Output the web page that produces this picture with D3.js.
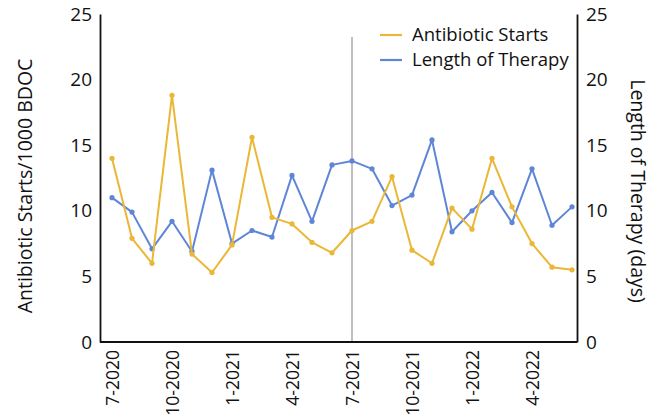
<!DOCTYPE html>
<meta charset="utf-8">
<title>Antibiotic starts and length of therapy</title>
<script src="https://d3js.org/d3.v7.min.js"></script>
<style>
body { margin: 0; background: #fff; }
text { font-family: "Open Sans", "Noto Sans", sans-serif; fill: #111; }
</style>
<div id="chart"></div>
<script>
// monthly data, 7-2020 .. 6-2022
const months = ["7-2020","8-2020","9-2020","10-2020","11-2020","12-2020",
  "1-2021","2-2021","3-2021","4-2021","5-2021","6-2021",
  "7-2021","8-2021","9-2021","10-2021","11-2021","12-2021",
  "1-2022","2-2022","3-2022","4-2022","5-2022","6-2022"];
const starts = [14.0, 7.9, 6.0, 18.8, 6.7, 5.3, 7.4, 15.6, 9.5, 9.0, 7.6, 6.8,
  8.5, 9.2, 12.6, 7.0, 6.0, 10.2, 8.6, 14.0, 10.3, 7.5, 5.7, 5.5];
const therapy = [11.0, 9.9, 7.1, 9.2, 6.9, 13.1, 7.5, 8.5, 8.0, 12.7, 9.2, 13.5,
  13.8, 13.2, 10.4, 11.2, 15.4, 8.4, 10.0, 11.4, 9.1, 13.2, 8.9, 10.3];
const tickMonths = ["7-2020","10-2020","1-2021","4-2021","7-2021","10-2021","1-2022","4-2022"];
const yTicks = [0, 5, 10, 15, 20, 25];
const legendNames = ["Antibiotic Starts", "Length of Therapy"];
const markerMonth = "7-2021";

const W = 660, H = 416;
const m = {left: 100, right: 577, top: 14, bottom: 342};
const gold = "#eab736", blue = "#5f86d6";

const svg = d3.select("#chart").append("svg")
  .attr("width", W).attr("height", H);

const x = d3.scalePoint().domain(months).range([112, 572]);
const yL = d3.scaleLinear().domain([0, 25]).range([m.bottom, m.top]);
const yR = d3.scaleLinear().domain([0, 25]).range([m.bottom, m.top]);

// vertical reference line
svg.append("line")
  .attr("x1", x(markerMonth)).attr("x2", x(markerMonth))
  .attr("y1", 37).attr("y2", m.bottom)
  .attr("stroke", "#b0b0b0").attr("stroke-width", 1.6);

// axes
const axL = svg.append("g").attr("transform", `translate(${m.left},0)`)
  .call(d3.axisLeft(yL).tickValues(yTicks).tickSize(0).tickPadding(8));
const axR = svg.append("g").attr("transform", `translate(${m.right},0)`)
  .call(d3.axisRight(yR).tickValues(yTicks).tickSize(0).tickPadding(9));
const axB = svg.append("g").attr("transform", `translate(0,${m.bottom})`)
  .call(d3.axisBottom(x).tickValues(tickMonths).tickSize(0).tickPadding(0));
axB.select(".domain").remove();
svg.append("line").attr("x1", m.left).attr("x2", m.right)
  .attr("y1", m.bottom).attr("y2", m.bottom)
  .attr("stroke", "#111").attr("stroke-width", 1.8);

[axL, axR].forEach(a => {
  a.select(".domain").attr("stroke", "#111").attr("stroke-width", 1.8);
  a.selectAll("text").style("font-size", "19px");
});
axB.selectAll("text")
  .style("font-size", "17.5px")
  .attr("text-anchor", "end")
  .attr("transform", "rotate(-90)")
  .attr("x", -8).attr("y", 0).attr("dy", "0.35em");

// axis titles
svg.append("text")
  .attr("transform", `translate(25,186) rotate(-90)`)
  .attr("text-anchor", "middle").attr("dy", "0.35em")
  .style("font-size", "19.5px")
  .text("Antibiotic Starts/1000 BDOC");
svg.append("text")
  .attr("transform", `translate(638,191) rotate(90)`)
  .attr("text-anchor", "middle").attr("dy", "0.35em")
  .style("font-size", "19.5px")
  .text("Length of Therapy (days)");

// series
function drawSeries(values, scale, color) {
  const pts = months.map((d, i) => [x(d), scale(values[i])]);
  svg.append("path")
    .attr("d", d3.line()(pts))
    .attr("fill", "none").attr("stroke", color)
    .attr("stroke-width", 2).attr("stroke-linejoin", "round");
  svg.append("g").selectAll("circle")
    .data(pts).join("circle")
    .attr("cx", d => d[0]).attr("cy", d => d[1])
    .attr("r", 2.6).attr("fill", color);
}
drawSeries(therapy, yR, blue);
drawSeries(starts, yL, gold);

// legend
const lg = svg.append("g");
[gold, blue].forEach((c, i) => {
  const yy = 35 + i * 25;
  lg.append("line").attr("x1", 380).attr("x2", 402)
    .attr("y1", yy).attr("y2", yy)
    .attr("stroke", c).attr("stroke-width", 2.2);
  lg.append("text").attr("x", 412).attr("y", yy).attr("dy", "0.35em")
    .style("font-size", "18.5px").text(legendNames[i]);
});
</script>
